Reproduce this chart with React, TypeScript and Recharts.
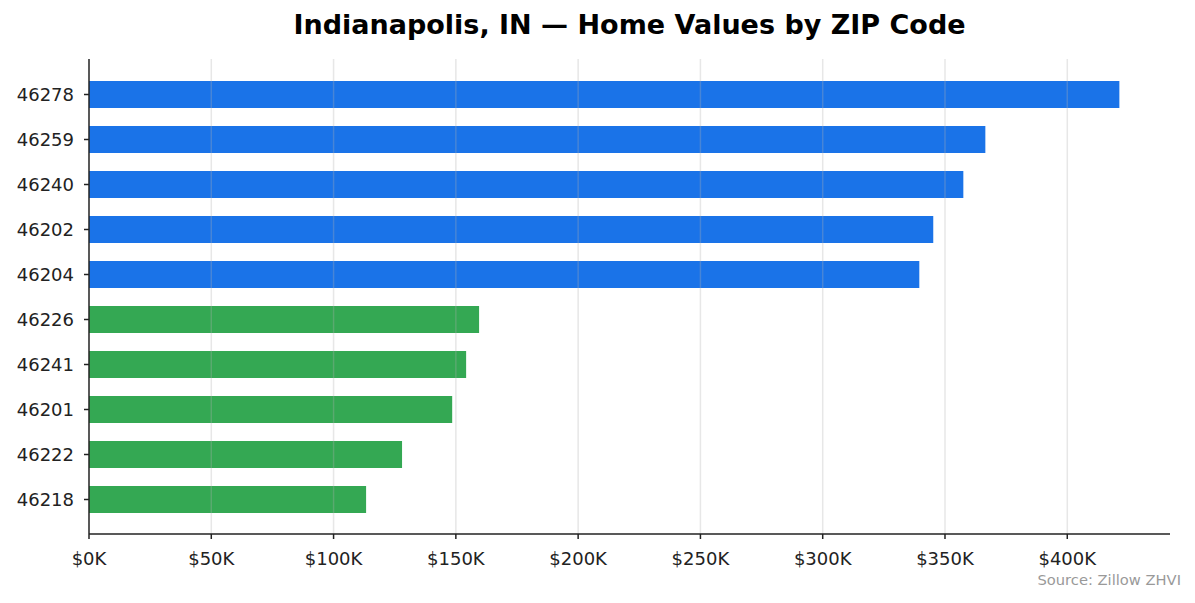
import { BarChart, Bar, XAxis, YAxis, Cell, ReferenceLine } from "recharts";

const zips = ["46278", "46259", "46240", "46202", "46204", "46226", "46241", "46201", "46222", "46218"];
const homeValues = [421300, 366500, 357500, 345200, 339500, 159500, 154200, 148500, 128000, 113300];
const tiers = ["high", "high", "high", "high", "high", "low", "low", "low", "low", "low"];
const xTicks = [0, 50000, 100000, 150000, 200000, 250000, 300000, 350000, 400000];
const xMax = 442000;

const tierColor: Record<string, string> = { high: "#1a73e8", low: "#34a853" };

const rows = zips.map((zip, i) => ({ zip, value: homeValues[i], tier: tiers[i] }));

const font = "DejaVu Sans, sans-serif";
const ink = "#222222";

export default function App() {
  return (
    <div style={{ position: "absolute", left: 0, top: 0, width: 1195, height: 603, background: "#fff", fontFamily: font }}>
      <div
        style={{
          position: "absolute",
          left: 89,
          width: 1081,
          top: 8,
          textAlign: "center",
          fontSize: 27,
          fontWeight: "bold",
          color: "#000",
          lineHeight: "34px",
        }}
      >
        Indianapolis, IN — Home Values by ZIP Code
      </div>
      <BarChart
        width={1195}
        height={603}
        data={rows}
        layout="vertical"
        margin={{ top: 59, right: 25, bottom: 39, left: 0 }}
      >
        <XAxis
          type="number"
          dataKey="value"
          domain={[0, xMax]}
          ticks={xTicks}
          allowDataOverflow
          tickFormatter={(v: number) => `$${v / 1000}K`}
          height={30}
          axisLine={{ stroke: ink, strokeWidth: 1.5 }}
          tickLine={{ stroke: ink, strokeWidth: 1.5 }}
          tickSize={5}
          tickMargin={13}
          tick={{ fill: ink, fontSize: 18, fontFamily: font }}
        />
        <YAxis
          type="category"
          dataKey="zip"
          width={89}
          padding={{ top: 13, bottom: 12 }}
          axisLine={{ stroke: ink, strokeWidth: 1.5 }}
          tickLine={{ stroke: ink, strokeWidth: 1.5 }}
          tickSize={5}
          tickMargin={10}
          tick={{ fill: ink, fontSize: 18, fontFamily: font }}
        />
        <Bar dataKey="value" barSize={27} isAnimationActive={false}>
          {rows.map((r) => (
            <Cell key={r.zip} fill={tierColor[r.tier]} />
          ))}
        </Bar>
        {xTicks.slice(1).map((t) => (
          <ReferenceLine key={t} x={t} stroke="#b0b0b0" strokeOpacity={0.3} strokeWidth={1.5} />
        ))}
      </BarChart>
      <div
        style={{
          position: "absolute",
          right: 14,
          top: 571,
          fontSize: 14.7,
          color: "#999999",
          lineHeight: "18px",
        }}
      >
        Source: Zillow ZHVI
      </div>
    </div>
  );
}
